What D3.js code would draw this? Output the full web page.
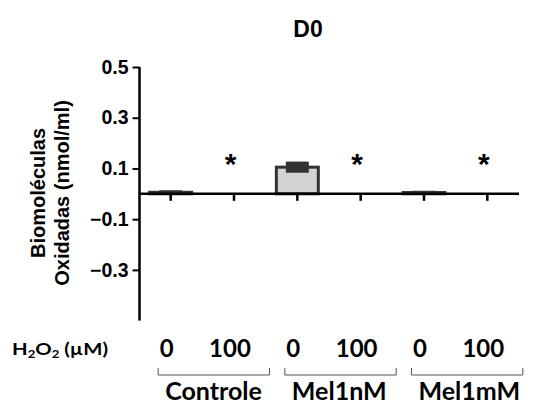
<!DOCTYPE html>
<html>
<head>
<meta charset="utf-8">
<script src="https://cdn.jsdelivr.net/npm/d3@7"></script>
<style>
  html, body { margin: 0; padding: 0; background: #fff; }
  svg { display: block; }
  .arial { font-family: "Liberation Sans", Arial, sans-serif; font-weight: bold; }
  .calib { font-family: Lato, "Open Sans", sans-serif; font-weight: bold; }
</style>
</head>
<body>
<svg id="chart" width="533" height="406"></svg>
<script>
// Oxidised biomolecules at day 0 (mean ± SEM)
const title = "D0";
const groups = ["Controle", "Mel1nM", "Mel1mM"];
const doses = ["0", "100"];
const means = [0.006, 0, 0.105, 0, 0.005, 0];
const errors = [0.008, 0, 0.022, 0, 0.007, 0];
const significant = [false, true, false, true, false, true];
const yTicks = [0.5, 0.3, 0.1, -0.1, -0.3];
const yLabelLines = ["Biomoléculas", "Oxidadas (nmol/ml)"];

const categories = [];
groups.forEach(g => doses.forEach(d => categories.push({ group: g, dose: d })));
const rows = categories.map((c, i) => ({
  key: c.group + "|" + c.dose, group: c.group, dose: c.dose,
  mean: means[i], err: errors[i], sig: significant[i]
}));

const svg = d3.select("#chart");

const x = d3.scaleBand()
  .domain(rows.map(r => r.key))
  .range([139, 519])
  .paddingInner(0.29)
  .paddingOuter(0.145);
const cx = k => x(k) + x.bandwidth() / 2;

const y = d3.scaleLinear().domain([-0.5, 0.5]).range([320.6, 67]);

// title
svg.append("text").attr("class", "arial")
  .attr("x", 308).attr("y", 37)
  .attr("text-anchor", "middle").attr("font-size", 23)
  .text(title);

// y axis
const yAxis = d3.axisLeft(y).tickValues(yTicks).tickSize(7).tickPadding(4)
  .tickFormat(d3.format(".1f"));
const gy = svg.append("g").attr("transform", "translate(139.5,0)").call(yAxis);
gy.attr("font-family", null).attr("font-size", null);
gy.select(".domain").attr("stroke", "#000").attr("stroke-width", 2.5)
  .attr("d", `M0,${y(0.5)}V${y(-0.5)}`);
gy.selectAll(".tick line").attr("stroke", "#000").attr("stroke-width", 2);
gy.selectAll(".tick text").attr("class", "arial").attr("font-size", 19.5)
  .attr("fill", "#000");

// y label (two lines)
const yl = svg.append("text").attr("class", "arial")
  .attr("font-size", 20)
  .attr("transform", "translate(0,193) rotate(-90)")
  .attr("text-anchor", "middle");
yl.selectAll("tspan").data(yLabelLines).join("tspan")
  .attr("x", 0).attr("y", (d, i) => 45 + i * 24)
  .text(d => d);

// bars
const bars = rows.filter(r => r.mean > 0);
svg.append("g").selectAll("rect").data(bars).join("rect")
  .attr("x", d => x(d.key) + 1.5)
  .attr("width", x.bandwidth() - 3)
  .attr("y", d => y(d.mean))
  .attr("height", d => y(0) - y(d.mean))
  .attr("fill", "#d3d3d3")
  .attr("stroke", "#333")
  .attr("stroke-width", 3);

// error bars
svg.append("g").selectAll("rect").data(bars).join("rect")
  .attr("x", d => cx(d.key) - 11.5)
  .attr("width", 23)
  .attr("y", d => y(d.mean + d.err))
  .attr("height", d => Math.max(3, y(d.mean - d.err) - y(d.mean + d.err)))
  .attr("fill", "#333");

// x axis at zero
const xAxis = d3.axisBottom(x).tickSize(7).tickFormat("");
const gx = svg.append("g").attr("transform", `translate(0,${y(0)})`).call(xAxis);
gx.select(".domain").attr("stroke", "#000").attr("stroke-width", 2.5)
  .attr("d", `M139,0H519`);
gx.selectAll(".tick line").attr("stroke", "#000").attr("stroke-width", 2.5);

// significance markers
svg.append("g").selectAll("text").data(rows.filter(r => r.sig)).join("text")
  .attr("class", "arial")
  .attr("x", d => cx(d.key) - 3.5)
  .attr("y", y(0.12) + 11)
  .attr("text-anchor", "middle")
  .attr("font-size", 30)
  .text("*");

// dose row label, widened to the row's span
const lab = svg.append("text").attr("class", "calib")
  .attr("font-size", 17);
lab.append("tspan").text("H");
lab.append("tspan").attr("font-size", 11).attr("dy", 3).text("2");
lab.append("tspan").attr("dy", -3).text("O");
lab.append("tspan").attr("font-size", 11).attr("dy", 3).text("2");
lab.append("tspan").attr("dy", -3).text(" (µM)");
const labW = lab.node().getComputedTextLength();
lab.attr("transform", `translate(12,355) scale(${96 / labW},1)`);

svg.append("g").selectAll("text").data(rows).join("text")
  .attr("class", "calib")
  .attr("x", d => cx(d.key) - 4)
  .attr("y", 357)
  .attr("text-anchor", "middle")
  .attr("font-size", 24)
  .text(d => d.dose);

// group brackets and names
const gb = svg.append("g").selectAll("g").data(groups).join("g");
gb.append("path")
  .attr("d", g => {
    const x0 = x(g + "|" + doses[0]) + 10;
    const x1 = x(g + "|" + doses[1]) + x.bandwidth() + 13;
    return `M${x0},368V375H${x1}V368`;
  })
  .attr("fill", "none").attr("stroke", "#555").attr("stroke-width", 1);
gb.append("text").attr("class", "calib")
  .attr("x", g => x(g + "|" + doses[0]) + 17)
  .attr("y", 400)
  .attr("font-size", 25)
  .text(g => g);
</script>
</body>
</html>
